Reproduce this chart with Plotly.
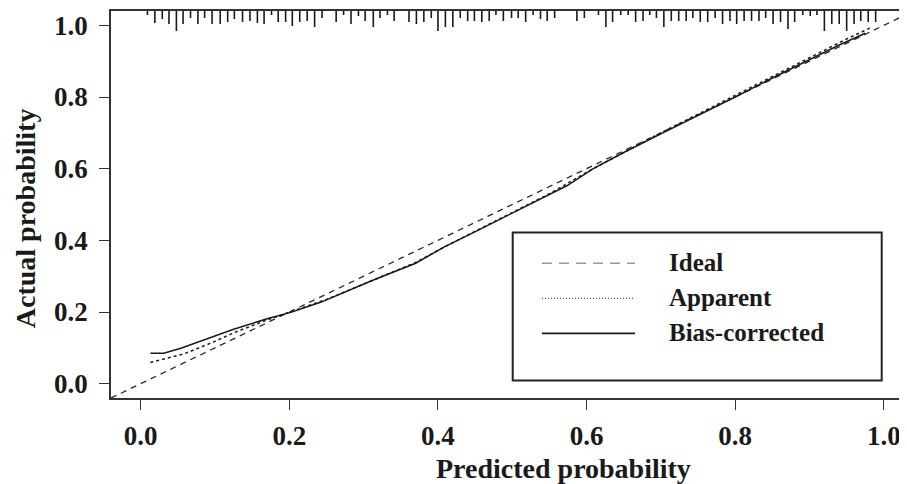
import plotly.graph_objects as go

# ---------------- data ----------------
ideal_x = [-0.04, 1.04]
ideal_y = [-0.04, 1.04]

apparent_x = [0.013, 0.058, 0.094, 0.13, 0.17, 0.20, 0.25, 0.30, 0.35, 0.37, 0.41, 0.45,
              0.50, 0.55, 0.60, 0.65, 0.70, 0.75, 0.80, 0.85, 0.90, 0.95, 0.984]
apparent_y = [0.059, 0.083, 0.113, 0.146, 0.178, 0.199, 0.235, 0.278, 0.322, 0.338, 0.383, 0.425,
              0.478, 0.530, 0.590, 0.645, 0.700, 0.752, 0.805, 0.857, 0.910, 0.962, 0.995]

bias_x = [0.013, 0.031, 0.054, 0.090, 0.125, 0.170, 0.202, 0.242, 0.314, 0.370, 0.408, 0.453,
          0.493, 0.533, 0.574, 0.609, 0.65, 0.70, 0.75, 0.80, 0.85, 0.90, 0.94, 0.975]
bias_y = [0.085, 0.085, 0.099, 0.127, 0.152, 0.181, 0.199, 0.227, 0.290, 0.336, 0.381, 0.427,
          0.469, 0.511, 0.553, 0.600, 0.645, 0.697, 0.748, 0.800, 0.853, 0.905, 0.945, 0.978]

# rug (histogram spikes of predicted probabilities along the top)
rug_x = [0.009, 0.019, 0.029, 0.038, 0.048, 0.057, 0.067, 0.077, 0.086, 0.096, 0.107, 0.117,
         0.126, 0.137, 0.147, 0.157, 0.166, 0.176, 0.185, 0.195,
         0.204, 0.214, 0.224, 0.234, 0.244, 0.263, 0.273, 0.283, 0.293, 0.302, 0.313, 0.322,
         0.332, 0.341, 0.361, 0.371, 0.381, 0.391, 0.400,
         0.410, 0.420, 0.430, 0.440, 0.449, 0.459, 0.469, 0.478, 0.488, 0.499, 0.508, 0.518,
         0.528, 0.538, 0.547, 0.557, 0.587, 0.597,
         0.616, 0.626, 0.635, 0.646, 0.656, 0.666, 0.676, 0.685, 0.694, 0.704, 0.714, 0.724,
         0.734, 0.743, 0.753, 0.763, 0.773, 0.783, 0.793, 0.802,
         0.812, 0.822, 0.832, 0.841, 0.851, 0.861, 0.871, 0.880, 0.891, 0.901, 0.910, 0.920,
         0.930, 0.940, 0.950, 0.960, 0.969, 0.979, 0.989]
rug_freq = [4, 12, 8, 13, 20, 13, 7, 13, 7, 13, 13, 11, 8, 11, 10, 12, 13, 4, 11, 11,
            15, 11, 10, 16, 7, 11, 4, 13, 5, 10, 16, 7, 4, 10, 11, 13, 11, 7, 20,
            16, 16, 7, 10, 10, 11, 10, 4, 10, 7, 7, 11, 4, 8, 10, 7, 10, 7,
            4, 16, 11, 4, 4, 11, 10, 4, 7, 16, 10, 10, 10, 7, 11, 11, 7, 13, 10, 13,
            10, 10, 10, 7, 13, 11, 18, 11, 4, 5, 4, 20, 13, 13, 20, 13, 10, 11, 11]

x_ticks = [0.0, 0.2, 0.4, 0.6, 0.8, 1.0]
y_ticks = [0.0, 0.2, 0.4, 0.6, 0.8, 1.0]
tick_labels = ["0.0", "0.2", "0.4", "0.6", "0.8", "1.0"]
legend_names = ["Ideal", "Apparent", "Bias-corrected"]

# ---------------- layout geometry ----------------
# the page body has an 8px default margin, so the figure is offset on screen
OFF = 8
W, H = 907, 484
ML, MT = 111 - OFF, 11 - OFF
PW = 796
PH = 386.6
MR = W - ML - PW
MB = H - MT - PH
X_RANGE = [-0.04, 1.0312]
Y_RANGE = [-0.04, 1.04]
PX_PER_Y = PH / (Y_RANGE[1] - Y_RANGE[0])

FONT = "Liberation Serif"
INK = "#1a1a1a"


def px_to_paper(px, py):
    """screen pixel -> paper coords"""
    fx, fy = px - OFF, py - OFF
    return (fx - ML) / PW, (MT + PH - fy) / PH


fig = go.Figure()

# rug spikes
rx, ry = [], []
top = Y_RANGE[1]
for xv, f in zip(rug_x, rug_freq):
    rx += [xv, xv, None]
    ry += [top, top - f / PX_PER_Y, None]
fig.add_trace(go.Scatter(x=rx, y=ry, mode="lines", line=dict(color=INK, width=1.6),
                         hoverinfo="skip", showlegend=False))

fig.add_trace(go.Scatter(x=ideal_x, y=ideal_y, mode="lines", name=legend_names[0],
                         line=dict(color="#2a2a2a", width=1.3, dash="6px,5px"), showlegend=False))
fig.add_trace(go.Scatter(x=apparent_x, y=apparent_y, mode="lines", name=legend_names[1],
                         line=dict(color="#222", width=1.6, dash="dot"), showlegend=False))
fig.add_trace(go.Scatter(x=bias_x, y=bias_y, mode="lines", name=legend_names[2],
                         line=dict(color=INK, width=1.5), showlegend=False))

axis_common = dict(showgrid=False, zeroline=False, showline=True, linecolor="#333",
                   linewidth=1.6, ticks="outside", ticklen=10, tickwidth=1.4, tickcolor="#333",
                   automargin=False,
                   tickfont=dict(family=FONT, size=27, color=INK, weight="bold"))

fig.update_layout(
    width=W, height=H,
    margin=dict(l=ML, r=MR, t=MT, b=MB, autoexpand=False),
    plot_bgcolor="white", paper_bgcolor="white",
    xaxis=dict(range=X_RANGE, tickvals=x_ticks, ticktext=tick_labels, mirror=True,
               ticklabelstandoff=3, **axis_common),
    yaxis=dict(range=Y_RANGE, tickvals=y_ticks, ticktext=tick_labels, mirror=False,
               ticklabelstandoff=6, **axis_common),
    showlegend=False,
)

# axis titles
tx, ty = px_to_paper(563, 468)
fig.add_annotation(x=tx, y=ty, xref="paper", yref="paper", text="Predicted probability",
                   xanchor="center", yanchor="middle",
                   showarrow=False, font=dict(family=FONT, size=28, color=INK, weight="bold"))
tx, ty = px_to_paper(25, 218)
fig.add_annotation(x=tx, y=ty, xref="paper", yref="paper", text="Actual probability",
                   xanchor="center", yanchor="middle",
                   textangle=-90, showarrow=False,
                   font=dict(family=FONT, size=28, color=INK, weight="bold"))

# legend box
bx0, by0 = px_to_paper(512.7, 380)
bx1, by1 = px_to_paper(881.7, 232.3)
fig.add_shape(type="rect", xref="paper", yref="paper", x0=bx0, y0=by0, x1=bx1, y1=by1,
              line=dict(color="#222", width=2), fillcolor="white", layer="above")

leg_styles = [dict(color="#9a9a9a", width=1.3, dash="10px,7px"),
              dict(color="#555", width=1.2, dash="1px,2px"),
              dict(color=INK, width=1.6)]
leg_y = [263, 298, 333]
for name, sty, py in zip(legend_names, leg_styles, leg_y):
    lx0, ly = px_to_paper(542, py)
    lx1, _ = px_to_paper(635, py)
    fig.add_shape(type="line", xref="paper", yref="paper", x0=lx0, x1=lx1, y0=ly, y1=ly,
                  line=sty, layer="above")
    ax, ay = px_to_paper(667, py - 1)
    fig.add_annotation(x=ax, y=ay, xref="paper", yref="paper", text=name, showarrow=False,
                       xanchor="left", yanchor="middle",
                       font=dict(family=FONT, size=25, color=INK, weight="bold"))

fig.write_html("out.html")
